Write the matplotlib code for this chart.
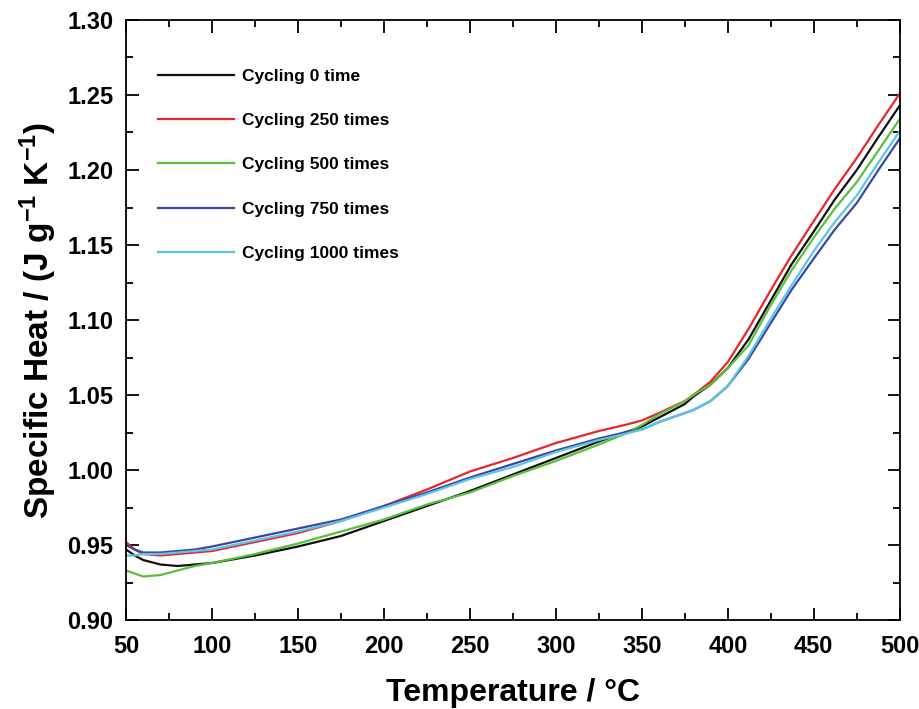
import matplotlib
matplotlib.use("Agg")
import matplotlib.pyplot as plt
from matplotlib.ticker import MultipleLocator, FormatStrFormatter

# ---- data ----
temps = [50, 55, 60, 70, 80, 90, 100, 125, 150, 175, 200, 225, 250, 275, 300,
         325, 340, 350, 360, 375, 380, 390, 400, 412, 425, 437, 450, 462, 475,
         487, 500]

cyc0 = [0.947, 0.943, 0.940, 0.937, 0.936, 0.937, 0.938, 0.943, 0.949, 0.956,
        0.966, 0.976, 0.986, 0.997, 1.008, 1.019, 1.025, 1.029, 1.035, 1.044,
        1.049, 1.057, 1.068, 1.087, 1.113, 1.137, 1.159, 1.180, 1.200, 1.221,
        1.243]
cyc250 = [0.952, 0.947, 0.944, 0.943, 0.944, 0.945, 0.946, 0.952, 0.958, 0.966,
          0.976, 0.987, 0.999, 1.008, 1.018, 1.026, 1.030, 1.033, 1.038, 1.046,
          1.050, 1.059, 1.072, 1.094, 1.120, 1.143, 1.166, 1.187, 1.208, 1.229,
          1.251]
cyc500 = [0.933, 0.931, 0.929, 0.930, 0.933, 0.936, 0.938, 0.944, 0.951, 0.959,
          0.967, 0.977, 0.985, 0.996, 1.006, 1.017, 1.024, 1.030, 1.037, 1.046,
          1.050, 1.057, 1.068, 1.083, 1.110, 1.133, 1.155, 1.174, 1.192, 1.212,
          1.234]
cyc750 = [0.950, 0.947, 0.945, 0.945, 0.946, 0.947, 0.949, 0.955, 0.961, 0.967,
          0.976, 0.985, 0.995, 1.004, 1.013, 1.021, 1.025, 1.027, 1.032, 1.038,
          1.040, 1.046, 1.056, 1.074, 1.098, 1.120, 1.141, 1.160, 1.178, 1.199,
          1.221]
cyc1000 = [0.943, 0.943, 0.944, 0.944, 0.945, 0.946, 0.947, 0.953, 0.959, 0.966,
           0.975, 0.984, 0.994, 1.002, 1.012, 1.020, 1.024, 1.027, 1.032, 1.038,
           1.040, 1.046, 1.056, 1.076, 1.101, 1.123, 1.146, 1.165, 1.183, 1.204,
           1.226]

labels = ["Cycling 0 time", "Cycling 250 times", "Cycling 500 times",
          "Cycling 750 times", "Cycling 1000 times"]
series = [cyc0, cyc250, cyc500, cyc750, cyc1000]
colors = ["#111111", "#e8262a", "#5cbf3c", "#3a47a8", "#5cc6e0"]

# ---- fonts ----
fam = "Liberation Sans"
plt.rcParams["font.family"] = [fam, "DejaVu Sans"]
plt.rcParams["font.weight"] = "bold"
plt.rcParams["mathtext.fontset"] = "custom"
plt.rcParams["mathtext.rm"] = fam + ":bold"
plt.rcParams["mathtext.bf"] = fam + ":bold"
plt.rcParams["mathtext.it"] = fam + ":bold"

fig = plt.figure(figsize=(9.2, 7.09), dpi=100)
ax = fig.add_axes([0.137, 0.1255, 0.841, 0.8463])

for y, c, lab in zip(series, colors, labels):
    ax.plot(temps, y, color=c, lw=1.6, label=lab)

ax.set_xlim(50, 500)
ax.set_ylim(0.90, 1.30)
ax.xaxis.set_major_locator(MultipleLocator(50))
ax.xaxis.set_minor_locator(MultipleLocator(25))
ax.yaxis.set_major_locator(MultipleLocator(0.05))
ax.yaxis.set_minor_locator(MultipleLocator(0.025))
ax.yaxis.set_major_formatter(FormatStrFormatter("%.2f"))

ax.tick_params(which="both", direction="in", top=True, right=True, width=1.3)
ax.tick_params(which="major", length=9, labelsize=17)
ax.tick_params(axis="x", which="major", pad=11)
ax.tick_params(axis="y", which="major", pad=9)
ax.tick_params(which="minor", length=5)
for s in ax.spines.values():
    s.set_linewidth(1.3)
for t in ax.get_xticklabels() + ax.get_yticklabels():
    t.set_fontweight("bold")

ax.set_xlabel("Temperature / \u00b0C", fontsize=23, fontweight="bold", labelpad=14)
ax.set_ylabel(r"Specific Heat / (J g$^{\mathbf{-1}}$ K$^{\mathbf{-1}}$)",
              fontsize=24, fontweight="bold", labelpad=6)

leg = ax.legend(loc="upper left", bbox_to_anchor=(0.041, 0.919), frameon=False,
                prop={"family": fam, "weight": "bold", "size": 12.5},
                handlelength=4.4, handletextpad=0.45, labelspacing=1.68,
                borderaxespad=0, borderpad=0)

fig.savefig("out.png", dpi=100)
